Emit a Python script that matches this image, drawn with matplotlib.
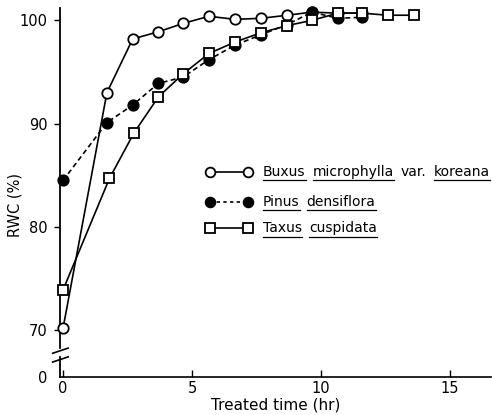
import matplotlib
matplotlib.use('Agg')
import matplotlib.pyplot as plt
from matplotlib.lines import Line2D

# Data (hr, RWC %)
buxus_t = [0, 1.7, 2.7, 3.7, 4.65, 5.66, 6.67, 7.67, 8.7, 9.65, 10.66, 11.6]
buxus_rwc = [70.2, 93.0, 98.2, 98.9, 99.7, 100.4, 100.1, 100.2, 100.5, 100.8, 100.7, 100.7]

pinus_t = [0, 1.7, 2.7, 3.7, 4.65, 5.66, 6.67, 7.67, 8.7, 9.65, 10.66, 11.6]
pinus_rwc = [84.5, 90.1, 91.8, 93.9, 94.5, 96.2, 97.6, 98.6, 99.6, 100.8, 100.2, 100.3]

taxus_t = [0, 1.8, 2.75, 3.7, 4.65, 5.66, 6.67, 7.67, 8.7, 9.65, 10.66, 11.6, 12.6, 13.6]
taxus_rwc = [73.9, 84.7, 89.1, 92.6, 94.8, 96.8, 97.9, 98.8, 99.5, 100.0, 100.7, 100.7, 100.5, 100.5]

xticks = [0, 5, 10, 15]
yticks = [70, 80, 90, 100]

YBOT, YTOP = 65.45, 101.2
W, H = 492, 415
DPI = 100

fig = plt.figure(figsize=(W / DPI, H / DPI), dpi=DPI)
ax = fig.add_axes([60 / W, 38 / H, 431 / W, 369 / H])
ax.set_xlim(-0.12, 16.6)
ax.set_ylim(YBOT, YTOP)

mk = dict(markersize=7.5, markeredgewidth=1.3, markeredgecolor='black', color='black',
          clip_on=False)
ax.plot(buxus_t, buxus_rwc, '-', marker='o', markerfacecolor='white', lw=1.2, zorder=3, **mk)
ax.plot(pinus_t, pinus_rwc, linestyle=(0, (3, 2)), marker='o', markerfacecolor='black',
        lw=1.2, zorder=4, **mk)
ax.plot(taxus_t, taxus_rwc, '-', marker='s', markerfacecolor='white', lw=1.2, zorder=5, **mk)

# axes: bottom spine only, left one drawn by hand with a break
for s in ['top', 'right', 'left']:
    ax.spines[s].set_visible(False)
ax.spines['bottom'].set_linewidth(1.2)
yt = ax.get_yaxis_transform()
ax.plot([0, 0], [68.3, YTOP], color='black', lw=1.3, transform=yt, clip_on=False)
ax.plot([0, 0], [YBOT, 67.4], color='black', lw=1.3, transform=yt, clip_on=False)
for yb in [68.0, 67.15]:
    ax.plot([-0.017, 0.019], [yb - 0.25, yb + 0.25], color='black', lw=1.2,
            transform=yt, clip_on=False)

ax.set_xticks(xticks)
ax.set_xticklabels([str(v) for v in xticks], fontsize=10.5)
ax.tick_params(axis='x', direction='in', length=5, width=1, pad=3)
ax.set_yticks(yticks + [YBOT])
ax.set_yticklabels([str(v) for v in yticks] + ['0'], fontsize=10.5)
ax.tick_params(axis='y', direction='out', length=4, width=1, pad=5)
ax.yaxis.get_major_ticks()[-1].tick1line.set_visible(False)

ax.set_xlabel('Treated time (hr)', fontsize=11, labelpad=1)
fig.text(15 / W, 1 - 205 / H, 'RWC (%)', rotation=90, ha='center', va='center', fontsize=10.5)

# legend with underlined scientific names
rows = [
    (172, dict(marker='o', markerfacecolor='white', linestyle='-'),
     [('Buxus', True), ('microphylla', True), ('var.', False), ('koreana', True)]),
    (202, dict(marker='o', markerfacecolor='black', linestyle=(0, (2, 2))),
     [('Pinus', True), ('densiflora', True)]),
    (228, dict(marker='s', markerfacecolor='white', linestyle='-'),
     [('Taxus', True), ('cuspidata', True)]),
]
renderer = fig.canvas.get_renderer()
for ypx, style, words in rows:
    yf = 1 - ypx / H
    fig.add_artist(Line2D([210 / W, 248 / W], [yf, yf], color='black', lw=1.2,
                          markersize=7, markeredgewidth=1.3, markeredgecolor='black',
                          transform=fig.transFigure, **style))
    x = 263
    for word, ul in words:
        t = fig.text(x / W, yf, word, fontsize=10, ha='left', va='center')
        bb = t.get_window_extent(renderer)
        if ul:
            yu = 1 - (ypx + 8.5) / H
            fig.add_artist(Line2D([bb.x0 / W, bb.x1 / W], [yu, yu], color='black', lw=0.9,
                                  transform=fig.transFigure))
        x = bb.x1 + 7

fig.savefig('out.png', dpi=DPI)
